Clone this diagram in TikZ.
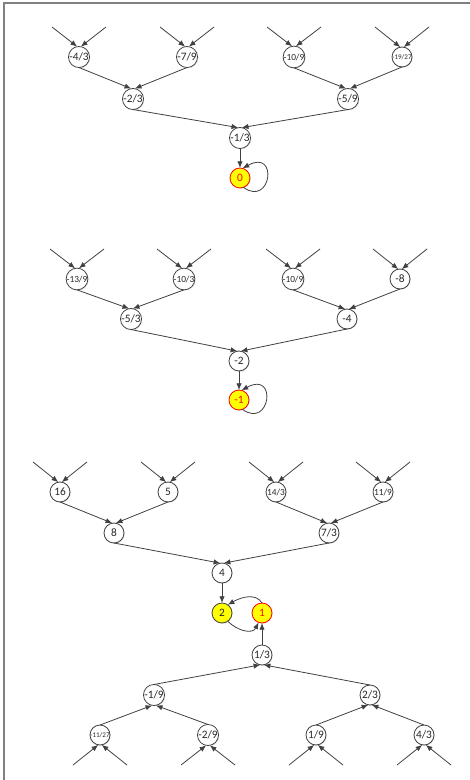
\documentclass[tikz,border=0pt]{standalone}
\usepackage{fontspec}
\setmainfont{Carlito}
\usetikzlibrary{arrows.meta,shadows}
\definecolor{edgegray}{HTML}{404040}
\definecolor{framegray}{HTML}{808080}
\definecolor{fixyellow}{HTML}{FFFF00}
\begin{document}
\begin{tikzpicture}[x=0.75pt,y=-0.75pt,inner sep=0pt,outer sep=0pt,line width=0.6pt,color=edgegray,
>={Latex[length=5pt,width=4pt]},
orbit/.style={draw=edgegray,circle,minimum size=15pt,fill=white,text=black!85,
  font=\fontsize{8.5}{9}\selectfont,drop shadow={opacity=0.2,shadow xshift=0.6pt,shadow yshift=-0.6pt}},
smallval/.style={orbit,font=\fontsize{7}{8}\selectfont},
tinyval/.style={orbit,font=\fontsize{5.3}{6}\selectfont},
fixpt/.style={orbit,fill=fixyellow,draw=red,text=red},
cyclept/.style={orbit,fill=fixyellow}]
\useasboundingbox (0,0) rectangle (470,780);
\draw[framegray,line width=0.8pt] (4,780) -- (4,3) -- (470,3);
% tree of 0
\draw (79,57) node[orbit] (za1) {-4/3};
\draw (187,57) node[orbit] (za2) {-7/9};
\draw (294,57) node[smallval] (za3) {-10/9};
\draw (402,57) node[tinyval] (za4) {-19/27};
\draw (133,99) node[orbit] (zb1) {-2/3};
\draw (348,99) node[orbit] (zb2) {-5/9};
\draw (240,138) node[orbit] (zc) {-1/3};
\draw (240,178) node[fixpt] (zero) {0};
% tree of -1
\draw (77,279) node[smallval] (ma1) {-13/9};
\draw (184,279) node[smallval] (ma2) {-10/3};
\draw (293,279) node[smallval] (ma3) {-10/9};
\draw (400,279) node[orbit] (ma4) {-8};
\draw (131,319) node[orbit] (mb1) {-5/3};
\draw (347,319) node[orbit] (mb2) {-4};
\draw (239,361) node[orbit] (mc) {-2};
\draw (239,400) node[fixpt] (mone) {-1};
% tree of the cycle 2,1
\draw (60,492) node[orbit] (ta1) {16};
\draw (168,492) node[orbit] (ta2) {5};
\draw (276,492) node[smallval] (ta3) {14/3};
\draw (383,492) node[smallval] (ta4) {11/9};
\draw (114,533) node[orbit] (tb1) {8};
\draw (329,533) node[orbit] (tb2) {7/3};
\draw (222,573) node[orbit] (tc) {4};
\draw (222,613) node[cyclept] (two) {2};
\draw (262,613) node[fixpt] (one) {1};
\draw (262,655) node[orbit] (od) {1/3};
\draw (154,695) node[orbit] (oe1) {-1/9};
\draw (370,695) node[orbit] (oe2) {2/3};
\draw (100,735) node[tinyval] (of1) {-11/27};
\draw (208,735) node[orbit] (of2) {-2/9};
\draw (316,735) node[orbit] (of3) {1/9};
\draw (424,735) node[orbit] (of4) {4/3};
% incoming stubs
\foreach \n in {za1,za2,za3,za4,ma1,ma2,ma3,ma4,ta1,ta2,ta3,ta4}{
  \path (\n) ++(-27,-30) coordinate (\n l) (\n) ++(27,-30) coordinate (\n r);
  \draw[->] (\n l) -- (\n.100);
  \draw[->] (\n r) -- (\n.80);
}
\foreach \n in {of1,of2,of3,of4}{
  \path (\n) ++(-27,30) coordinate (\n l) (\n) ++(27,30) coordinate (\n r);
  \draw[->] (\n l) -- (\n.260);
  \draw[->] (\n r) -- (\n.280);
}
% downward trees
\foreach \c/\p/\a in {za1/zb1/100,za2/zb1/80,za3/zb2/100,za4/zb2/80,zb1/zc/100,zb2/zc/80,
  ma1/mb1/100,ma2/mb1/80,ma3/mb2/100,ma4/mb2/80,mb1/mc/100,mb2/mc/80,
  ta1/tb1/100,ta2/tb1/80,ta3/tb2/100,ta4/tb2/80,tb1/tc/100,tb2/tc/80}
  \draw[->] (\c.south) -- (\p.\a);
\draw[->] (zc) -- (zero);
\draw[->] (mc) -- (mone);
\draw[->] (tc) -- (two);
% upward tree
\foreach \c/\p/\a in {of1/oe1/260,of2/oe1/280,of3/oe2/260,of4/oe2/280,oe1/od/260,oe2/od/280}
  \draw[->] (\c.north) -- (\p.\a);
\draw[->] (od) -- (one);
% loops
\draw[->] (zero.-70) .. controls +(28,20) and +(36,-20) .. (zero.75);
\draw[->] (mone.-70) .. controls +(28,20) and +(36,-20) .. (mone.75);
\draw[->] (one.north) .. controls +(-6,-10) and +(14,-8) .. (two.55);
\draw[->] (two.-55) .. controls +(10,10) and +(-6,12) .. (one.-110);
\end{tikzpicture}
\end{document}
